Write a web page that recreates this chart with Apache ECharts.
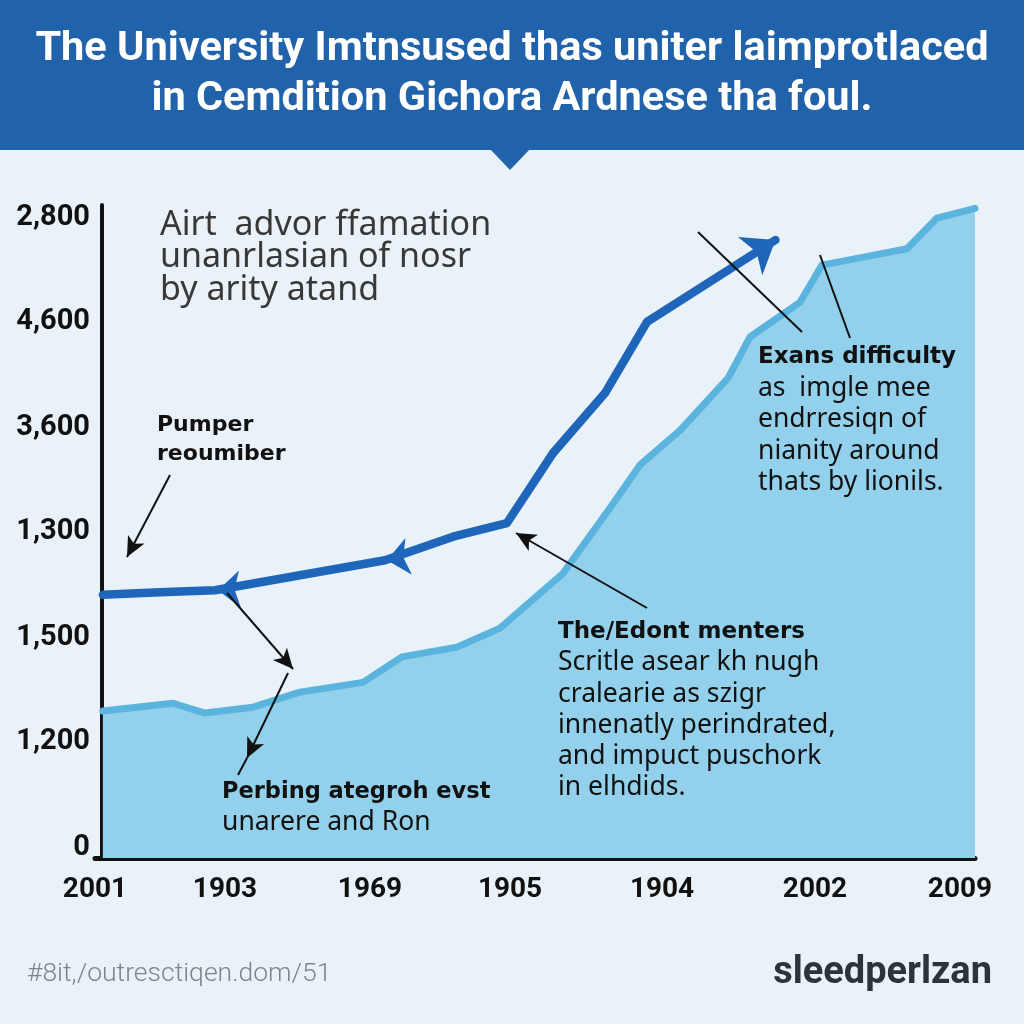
<!DOCTYPE html>
<html><head><meta charset="utf-8">
<script src="https://cdn.jsdelivr.net/npm/echarts@6/dist/echarts.min.js"></script>
<style>html,body{margin:0;padding:0;background:#e9f2f9}#c{width:1024px;height:1024px}</style>
</head><body><div id="c"></div>
<script>
// ---------- data ----------
const titleLines = ['The University Imtnsused thas uniter laimprotlaced', 'in Cemdition Gichora Ardnese tha foul.'];
const xTickValues = [-0.8, 14.09, 30.7, 46.74, 64.15, 81.67, 98.28];
const xTickLabels = ['2001', '1903', '1969', '1905', '1904', '2002', '2009'];
const yTickValues = [1.5, 17.8, 33.8, 49.9, 65.9, 82.1, 98.0];
const yTickLabels = ['0', '1,200', '1,500', '1,300', '3,600', '4,600', '2,800'];

const areaX = [0.1, 8.13, 11.8, 17.3, 22.68, 29.9, 34.36, 40.66, 45.59, 52.81, 58.19, 61.63, 66.21, 71.71, 74.23, 79.95, 82.47, 87.97, 92.21, 95.65, 100];
const areaY = [22.5, 23.7, 22.2, 23.1, 25.4, 26.9, 30.8, 32.3, 35.2, 43.6, 53.6, 60.2, 65.5, 73.5, 79.8, 85.1, 90.8, 92.2, 93.3, 98.0, 99.5];

const lineX = [0.1, 6.64, 12.94, 22.68, 32.42, 40.21, 46.39, 51.66, 57.62, 62.43, 77.14];
const lineY = [40.3, 40.7, 41.0, 43.3, 45.6, 49.2, 51.3, 62.0, 71.2, 82.1, 94.64];

const arrowX = [13.29, 32.65];
const arrowY = [41.0, 45.6];

const topNote = ['Airt  advor ffamation', 'unanrlasian of nosr', 'by arity atand'];
const noteA = ['Pumper', 'reoumiber'];
const noteB = ['Exans difficulty', 'as  imgle mee', 'endrresiqn of', 'nianity around', 'thats by lionils.'];
const noteC = ['The/Edont menters', 'Scritle asear kh nugh', 'cralearie as szigr', 'innenatly perindrated,', 'and impuct puschork', 'in elhdids.'];
const noteD = ['Perbing ategroh evst', 'unarere and Ron'];
const footerLeft = '#8it,/outresctiqen.dom/51';
const footerRight = 'sleedperlzan';

// ---------- build ----------
function lookup(vals, labels, v) {
  let best = 0, bd = Infinity;
  vals.forEach((t, i) => { const d = Math.abs(t - v); if (d < bd) { bd = d; best = i; } });
  return bd < 0.5 ? labels[best] : '';
}
function T(x, base, text, size, weight, family, color, align) {
  return {
    type: 'text', x: x, y: base - 0.35 * size, z: 100, silent: true,
    style: { text: text, font: weight + ' ' + size + 'px ' + family, fill: color,
      align: align || 'left', verticalAlign: 'middle' }
  };
}
const bold = '"DejaVu Sans"';
const body = '"Noto Sans"';
const graphics = [
  { type: 'rect', z: 0, silent: true, shape: { x: 0, y: 0, width: 1024, height: 150 }, style: { fill: '#2163ab' } },
  { type: 'polygon', z: 0, silent: true, shape: { points: [[490, 149], [530, 149], [510, 170]] }, style: { fill: '#2163ab' } },
  T(512, 64, titleLines[0], 41.5, 700, 'Roboto', '#ffffff', 'center'),
  T(512, 114, titleLines[1], 41.5, 700, 'Roboto', '#ffffff', 'center'),
  T(27, 984, footerLeft, 26.5, 300, 'Roboto', '#7b858d'),
  T(992, 987, footerRight, 38, 700, 'Roboto', '#2b333b', 'right')
];
topNote.forEach((t, i) => graphics.push(T(160, 237 + i * 32.5, t, 34, 400, body, '#383838')));
noteA.forEach((t, i) => graphics.push(T(157, 433 + i * 29, t, 22, 700, bold, '#111111')));
noteB.forEach((t, i) => graphics.push(i === 0 ? T(758, 365, t, 23, 700, bold, '#111111') : T(758, 366 + i * 31.5, t, 26.5, 400, body, '#111111')));
noteC.forEach((t, i) => graphics.push(i === 0 ? T(558, 640, t, 23, 700, bold, '#111111') : T(558, 641 + i * 31.2, t, 26.5, 400, body, '#111111')));
noteD.forEach((t, i) => graphics.push(i === 0 ? T(222, 800, t, 22.5, 700, bold, '#111111') : T(222, 832, t, 26.5, 400, body, '#111111')));

const lineData = lineX.map((x, i) => {
  const item = { value: [x, lineY[i]] };
  if (i === lineX.length - 1) { item.symbol = 'arrow'; item.symbolSize = [34, 30]; item.symbolRotate = -57.5; }
  return item;
});
const arrowRot = [93, 100];
const arrowData = arrowX.map((x, i) => ({ value: [x, arrowY[i]], symbolRotate: arrowRot[i] }));

function seg(x1, y1, x2, y2, head) {
  return [{ x: x1, y: y1, symbol: 'none' }, { x: x2, y: y2, symbol: head ? 'arrow' : 'none' }];
}

const chart = echarts.init(document.getElementById('c'), null, { renderer: 'canvas' });
chart.setOption({
  backgroundColor: '#e9f2f9',
  animation: false,
  grid: { left: 95, right: 49, top: 205, bottom: 166, containLabel: false },
  xAxis: {
    type: 'value', min: -0.8, max: 100,
    axisLine: { show: true, onZero: true, lineStyle: { color: '#111', width: 5, cap: 'round' } },
    axisTick: { show: false }, splitLine: { show: false },
    axisLabel: { customValues: xTickValues, margin: 18, color: '#111', fontFamily: 'Roboto', fontWeight: 700, fontSize: 28,
      formatter: v => lookup(xTickValues, xTickLabels, v) }
  },
  yAxis: {
    type: 'value', min: 0, max: 100,
    axisLine: { show: true, onZero: true, lineStyle: { color: '#111', width: 4, cap: 'round' } },
    axisTick: { show: false }, splitLine: { show: false },
    axisLabel: { customValues: yTickValues, margin: 5, color: '#111', fontFamily: 'Roboto', fontWeight: 700, fontSize: 29,
      formatter: v => lookup(yTickValues, yTickLabels, v) }
  },
  graphic: graphics,
  series: [
    { type: 'line', name: 'area', data: areaX.map((x, i) => [x, areaY[i]]), symbol: 'none', clip: false, z: 2,
      lineStyle: { color: '#5bb4dd', width: 7, join: 'round', cap: 'round' },
      areaStyle: { color: '#92d0ec', opacity: 1 } },
    { type: 'line', name: 'trend', data: lineData, symbol: 'none', showAllSymbol: true, clip: false, z: 3,
      lineStyle: { color: '#1f66ba', width: 8.5, join: 'round', cap: 'round' },
      itemStyle: { color: '#1f66ba', opacity: 1 } },
    { type: 'scatter', name: 'marks', data: arrowData, symbol: 'arrow', symbolSize: [28, 22], z: 4,
      itemStyle: { color: '#1f66ba', opacity: 1 },
      markLine: {
        silent: true, symbolSize: [14, 20], label: { show: false },
        lineStyle: { color: '#111', width: 2, type: 'solid' },
        emphasis: { disabled: true },
        data: [
          seg(170, 475, 127, 557, true),
          seg(227, 593, 293, 669, true),
          seg(288, 673, 247, 758, true),
          seg(247, 758, 238, 775, false),
          seg(647, 608, 516, 533, true),
          seg(698, 232, 802, 332, false),
          seg(820, 255, 850, 338, false)
        ]
      } }
  ]
});
</script>
</body></html>
